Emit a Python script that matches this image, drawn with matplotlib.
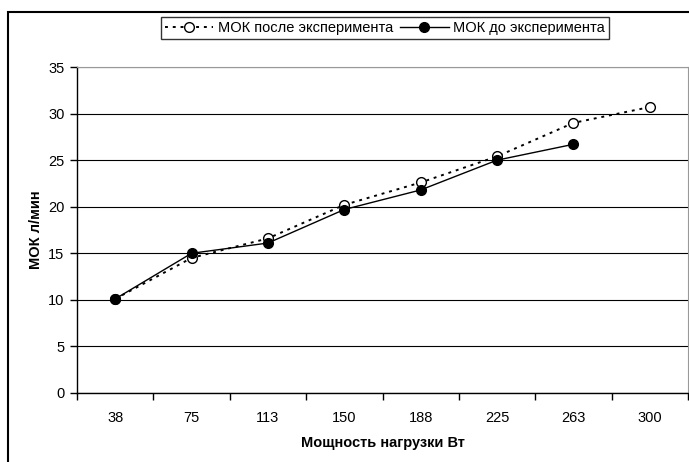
import matplotlib.pyplot as plt
from matplotlib.patches import Rectangle

plt.rcParams['font.family'] = ['Liberation Sans', 'DejaVu Sans']

# load power, W
power = ["38", "75", "113", "150", "188", "225", "263", "300"]
# cardiac output (МОК), l/min
mok_after = [10.1, 14.5, 16.6, 20.2, 22.6, 25.4, 29.0, 30.7]
mok_before = [10.1, 15.0, 16.1, 19.7, 21.8, 25.0, 26.7]

fig = plt.figure(figsize=(6.89, 4.62), dpi=100)
ax = fig.add_axes([77 / 689, (462 - 393) / 462, (688 - 77) / 689, (393 - 67) / 462])

x_after = range(len(mok_after))
x_before = range(len(mok_before))

ax.plot(x_after, mok_after, linestyle=(0, (1.5, 2.5)), color='black', lw=1.4,
        marker='o', markersize=7, markerfacecolor='white', markeredgecolor='black',
        markeredgewidth=1.0, label='МОК после эксперимента', zorder=3)
ax.plot(x_before, mok_before, linestyle='-', color='black', lw=1.0,
        marker='o', markersize=7, markerfacecolor='black', markeredgecolor='black',
        label='МОК до эксперимента', zorder=4)

ax.set_xlim(-0.5, len(power) - 0.5)
ax.set_ylim(0, 35)
ax.set_yticks(range(0, 36, 5))
ax.yaxis.grid(True, color='black', lw=0.8)
ax.set_axisbelow(True)

# category labels centred, tick marks between categories
ax.set_xticks(range(len(power)))
ax.set_xticklabels(power)
ax.set_xticks([i - 0.5 for i in range(len(power) + 1)], minor=True)
ax.tick_params(axis='x', which='major', length=0, pad=13, labelsize=10.5)
ax.tick_params(axis='x', which='minor', length=5, width=1, direction='out')
ax.tick_params(axis='y', length=5, width=1, direction='out', labelsize=10.5, pad=4)

for side in ['top', 'right']:
    ax.spines[side].set_color('#999999')
for side in ['left', 'bottom']:
    ax.spines[side].set_color('black')
    ax.spines[side].set_linewidth(1.0)

ax.set_xlabel('Мощность нагрузки Вт', fontsize=10.5, fontweight='bold', labelpad=8)
ax.set_ylabel('МОК л/мин', fontsize=10.5, fontweight='bold', labelpad=4)

leg = fig.legend(loc='center', bbox_to_anchor=(385 / 689, 1 - 28 / 462), ncol=2,
                 fontsize=10.5, frameon=True, fancybox=False, edgecolor='black',
                 handlelength=3.3, handletextpad=0.3, columnspacing=0.5,
                 borderpad=0.3, borderaxespad=0)
leg.get_frame().set_linewidth(1.0)

# outer chart border
fig.add_artist(Rectangle((8 / 689, -0.1), 1.2, 1.1 - 12 / 462, transform=fig.transFigure,
                         fill=False, edgecolor='black', lw=1.5, clip_on=False))

fig.savefig('out.png', dpi=100)
